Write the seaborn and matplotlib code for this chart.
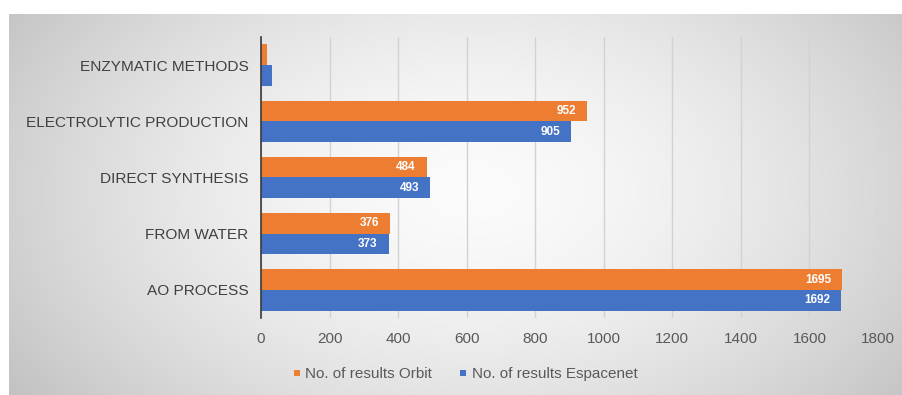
import numpy as np
import pandas as pd
import matplotlib
matplotlib.use("Agg")
import matplotlib.pyplot as plt
from matplotlib.lines import Line2D
import seaborn as sns

categories = ["ENZYMATIC METHODS", "ELECTROLYTIC PRODUCTION", "DIRECT SYNTHESIS",
              "FROM WATER", "AO PROCESS"]
orbit = [18, 952, 484, 376, 1695]
espacenet = [32, 905, 493, 373, 1692]
series_names = ["No. of results Orbit", "No. of results Espacenet"]
labelled = [False, True, True, True, True]
xticks = [0, 200, 400, 600, 800, 1000, 1200, 1400, 1600, 1800]

colors = {series_names[0]: "#ED7D31", series_names[1]: "#4472C4"}

df = pd.DataFrame({
    "category": categories * 2,
    "value": orbit + espacenet,
    "series": [series_names[0]] * len(categories) + [series_names[1]] * len(categories),
})

sns.set_style("white")
plt.rcParams["font.family"] = ["Liberation Sans", "DejaVu Sans"]

W, H = 903, 395
fig = plt.figure(figsize=(W / 100, H / 100), dpi=100)
fig.patch.set_facecolor("white")

# radial grey backdrop panel
bg = fig.add_axes([0, 0, 1, 1], zorder=0)
yy, xx = np.mgrid[0:H, 0:W]
cx, cy = 470, 190
r = np.sqrt(((xx - cx) / 520.0) ** 2 + ((yy - cy) / 330.0) ** 2)
shade = 0.985 - 0.2 * np.clip(r, 0, 1.2) ** 1.6
img = np.dstack([shade] * 3)
img[:14, :, :] = 1.0
img[:, :9, :] = 1.0
bg.imshow(img, extent=[0, W, H, 0], aspect="auto", interpolation="bilinear")
bg.set_xlim(0, W)
bg.set_ylim(H, 0)
bg.axis("off")

ax = fig.add_axes([261 / W, 1 - 318 / H, (878 - 261) / W, (318 - 37) / H], zorder=1)
ax.set_facecolor("none")

sns.barplot(data=df, y="category", x="value", hue="series", order=categories,
            hue_order=series_names, palette=colors, orient="h", width=0.74,
            saturation=1, ax=ax, legend=False, zorder=3, linewidth=0)

ax.set_xlim(0, 1800)
ax.set_ylim(4.5, -0.5)
ax.set_xticks(xticks)
ax.set_xticklabels([str(t) for t in xticks])
ax.grid(axis="x", color="#d2d2d2", linewidth=1.0, zorder=0)
ax.set_axisbelow(True)
for s in ["top", "right", "bottom"]:
    ax.spines[s].set_visible(False)
ax.spines["left"].set_color("#3a3a3a")
ax.spines["left"].set_linewidth(1.2)
ax.spines["left"].set_zorder(5)
ax.tick_params(axis="x", length=0, labelsize=11, labelcolor="#595959", pad=10)
ax.tick_params(axis="y", length=0, labelsize=11.1, labelcolor="#404040", pad=9)
ax.set_xlabel("")
ax.set_ylabel("")

# value labels inside bar ends
for container, vals in zip(ax.containers, [orbit, espacenet]):
    for bar, v, show in zip(container.patches, vals, labelled):
        if not show:
            continue
        ax.annotate(str(v), xy=(bar.get_width(), bar.get_y() + bar.get_height() / 2),
                    xytext=(-8, 0), textcoords="offset points", ha="right", va="center",
                    color="white", fontsize=8.5, fontweight="bold", zorder=6)

handles = [Line2D([], [], linestyle="none", marker="s", markersize=5,
                  markerfacecolor=colors[n], markeredgewidth=0) for n in series_names]
fig.legend(handles, series_names, loc="center", bbox_to_anchor=(465 / W, 1 - 374 / H),
           ncol=2, frameon=False, fontsize=11, handlelength=0.5,
           handletextpad=0.3, columnspacing=1.8, labelcolor="#595959")

fig.savefig("out.png", dpi=100)
